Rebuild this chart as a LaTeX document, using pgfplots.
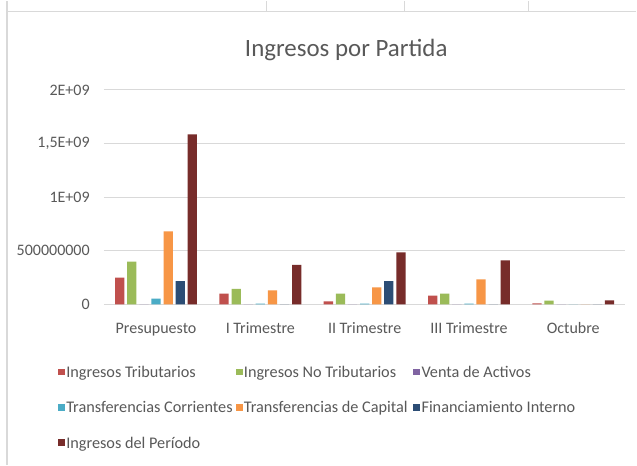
\documentclass[border=0pt]{standalone}
\usepackage{fontspec}
\setmainfont{Carlito}
\usepackage{pgfplots}
\pgfplotsset{compat=1.18}
\definecolor{txt}{HTML}{595959}
\definecolor{gridc}{HTML}{D9D9D9}
\definecolor{c1}{HTML}{C0504D}
\definecolor{c2}{HTML}{9BBB59}
\definecolor{c3}{HTML}{8064A2}
\definecolor{c4}{HTML}{4BACC6}
\definecolor{c5}{HTML}{F79646}
\definecolor{c6}{HTML}{2C4D75}
\definecolor{c7}{HTML}{772C2A}
\pgfplotsset{sq/.style={legend image code/.code={\fill[##1] (0pt,-2.6pt) rectangle (5.25pt,2.6pt);}}}
\newcommand{\legent}[1]{\makebox[126.5pt][l]{\strut #1}}
\begin{document}
\begin{tikzpicture}
\path[fill=white] (0,0) rectangle (477.75pt,348.75pt);
\draw[gridc, line width=0.9pt] (5.25pt,0pt) -- (5.25pt,348.75pt);
\draw[gridc, line width=0.9pt] (5.25pt,340.7pt) -- (477.75pt,340.7pt);
\draw[gridc, line width=0.9pt] (200.25pt,340.7pt) -- (200.25pt,348.75pt);
\draw[gridc, line width=0.9pt] (303.75pt,340.7pt) -- (303.75pt,348.75pt);
\draw[gridc, line width=0.9pt] (396.75pt,340.7pt) -- (396.75pt,348.75pt);
\node[anchor=base, font=\fontsize{18.7}{22}\selectfont, text=txt] at (259.9pt,306.75pt) {Ingresos por Partida};
\begin{axis}[
  at={(78pt,120.75pt)}, anchor=south west,
  scale only axis, width=391.5pt, height=160.9pt,
  xmin=-0.5, xmax=4.5, ymin=0, ymax=2e9,
  ybar, bar width=0.089,
  axis line style={draw=none},
  ymajorgrids, major grid style={gridc, line width=0.75pt},
  xtick={0,1,2,3,4},
  xticklabels={Presupuesto, I Trimestre, II Trimestre, III Trimestre, Octubre},
  ytick={0,500000000,1000000000,1500000000,2000000000},
  yticklabels={0,500000000,1E+09,{1,5E+09},2E+09},
  scaled y ticks=false,
  major tick length=0pt,
  tick label style={font=\fontsize{12}{14}\selectfont, text=txt, inner sep=0pt},
  xticklabel style={anchor=base, yshift=-21.75pt},
  yticklabel style={anchor=east, xshift=-10.5pt},
  legend columns=3,
  legend cell align=left,
  legend style={draw=none, fill=none, at={(-0.0881,-0.2746)}, anchor=north west,
    inner sep=0pt, font=\fontsize{12.2}{14}\selectfont, text=txt,
    nodes={inner sep=0.8pt}, row sep=13.6pt,
    /tikz/every even column/.append style={column sep=0pt}},
]
\addplot[sq, fill=c1, draw=none, bar shift=-0.348] coordinates {(0,249000000) (1,100000000) (2,28000000) (3,81000000) (4,8000000)};
\addlegendentry{\legent{Ingresos Tributarios}}
\addplot[sq, fill=c2, draw=none, bar shift=-0.232] coordinates {(0,398000000) (1,143000000) (2,100000000) (3,100000000) (4,35000000)};
\addlegendentry{\legent{Ingresos No Tributarios}}
\addplot[sq, fill=c3, draw=none, bar shift=-0.116] coordinates {(0,0) (1,0) (2,0) (3,0) (4,0)};
\addlegendentry{\legent{Venta de Activos}}
\addplot[sq, fill=c4, draw=none, bar shift=0] coordinates {(0,53000000) (1,6000000) (2,6000000) (3,6000000) (4,0)};
\addlegendentry{\legent{Transferencias Corrientes}}
\addplot[sq, fill=c5, draw=none, bar shift=0.116] coordinates {(0,681000000) (1,131000000) (2,159000000) (3,233000000) (4,0)};
\addlegendentry{\legent{Transferencias de Capital}}
\addplot[sq, fill=c6, draw=none, bar shift=0.232] coordinates {(0,217000000) (1,0) (2,217000000) (3,0) (4,0)};
\addlegendentry{\legent{Financiamiento Interno}}
\addplot[sq, fill=c7, draw=none, bar shift=0.348] coordinates {(0,1585000000) (1,367000000) (2,485000000) (3,410000000) (4,37000000)};
\addlegendentry{\legent{Ingresos del Período}}
\end{axis}
\end{tikzpicture}
\end{document}
